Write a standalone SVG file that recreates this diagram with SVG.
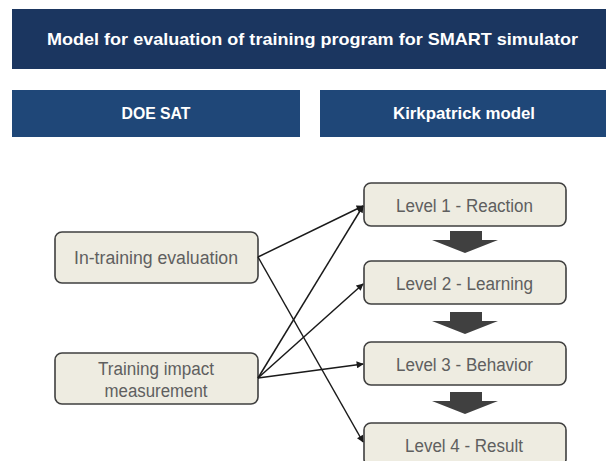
<svg xmlns="http://www.w3.org/2000/svg" width="606" height="461" viewBox="0 0 606 461">
  <defs>
    <style>
      .banner { fill: #1b3660; }
      .header { fill: #1f4778; }
      .head-text { fill: #ffffff; font-family: "Liberation Sans", Arial, sans-serif; font-weight: bold; font-size: 17px; text-anchor: middle; }
      .node rect { fill: #eeece1; stroke: #3f3f3f; stroke-width: 1.6; }
      .node text { fill: #5f5f5f; font-family: "Liberation Sans", Arial, sans-serif; font-size: 18px; text-anchor: middle; }
      .link { fill: none; stroke: #1a1a1a; stroke-width: 1.5; marker-end: url(#tip); }
      .step { fill: #404040; }
    </style>
    <marker id="tip" viewBox="0 0 10 10" refX="9" refY="5" markerWidth="8" markerHeight="7" markerUnits="userSpaceOnUse" orient="auto">
      <path d="M0,0 L10,5 L0,10 z" fill="#1a1a1a"/>
    </marker>
    <!-- block arrow between Kirkpatrick levels, drawn at the origin -->
    <path id="down" d="M-15,0 H17 V9 H33 L0,22 L-33,9 H-15 z"/>
  </defs>

  <!-- title banner -->
  <g id="title">
    <rect class="banner" x="12" y="9" width="594" height="60"/>
    <text class="head-text" x="312.5" y="45" textLength="531" lengthAdjust="spacingAndGlyphs">Model for evaluation of training program for SMART simulator</text>
  </g>

  <!-- column headers -->
  <g id="doe-sat">
    <rect class="header" x="12" y="90" width="288" height="47"/>
    <text class="head-text" x="156" y="119" textLength="69" lengthAdjust="spacingAndGlyphs">DOE SAT</text>
  </g>
  <g id="kirkpatrick">
    <rect class="header" x="320" y="90" width="286" height="47"/>
    <text class="head-text" x="464" y="119" textLength="142" lengthAdjust="spacingAndGlyphs">Kirkpatrick model</text>
  </g>

  <!-- DOE SAT evaluation nodes -->
  <g id="in-training" class="node">
    <rect x="55" y="232" width="203" height="51" rx="7"/>
    <text x="156" y="264" textLength="164" lengthAdjust="spacingAndGlyphs">In-training evaluation</text>
  </g>
  <g id="impact" class="node">
    <rect x="55" y="353" width="203" height="51" rx="7"/>
    <text x="156" y="375" textLength="116" lengthAdjust="spacingAndGlyphs">Training impact</text>
    <text x="156" y="397" textLength="103" lengthAdjust="spacingAndGlyphs">measurement</text>
  </g>

  <!-- Kirkpatrick levels -->
  <g id="level1" class="node">
    <rect x="364" y="183" width="202" height="43" rx="7"/>
    <text x="464.5" y="212" textLength="137" lengthAdjust="spacingAndGlyphs">Level 1 - Reaction</text>
  </g>
  <g id="level2" class="node">
    <rect x="364" y="261" width="202" height="43" rx="7"/>
    <text x="464.5" y="290" textLength="137" lengthAdjust="spacingAndGlyphs">Level 2 - Learning</text>
  </g>
  <g id="level3" class="node">
    <rect x="364" y="342" width="202" height="43" rx="7"/>
    <text x="464.5" y="371" textLength="137" lengthAdjust="spacingAndGlyphs">Level 3 - Behavior</text>
  </g>
  <g id="level4" class="node">
    <rect x="364" y="423" width="202" height="43" rx="7"/>
    <text x="464" y="452" textLength="118" lengthAdjust="spacingAndGlyphs">Level 4 - Result</text>
  </g>

  <!-- progression between levels -->
  <g id="steps">
    <use href="#down" class="step" x="465" y="231"/>
    <use href="#down" class="step" x="465" y="312"/>
    <use href="#down" class="step" x="465" y="392"/>
  </g>

  <!-- connectors -->
  <g id="connectors">
    <line class="link" x1="258" y1="257" x2="363" y2="206"/>
    <line class="link" x1="258" y1="257" x2="363" y2="442"/>
    <line class="link" x1="258" y1="378" x2="363" y2="206"/>
    <line class="link" x1="258" y1="378" x2="363" y2="284"/>
    <line class="link" x1="258" y1="378" x2="363" y2="364"/>
  </g>
</svg>
